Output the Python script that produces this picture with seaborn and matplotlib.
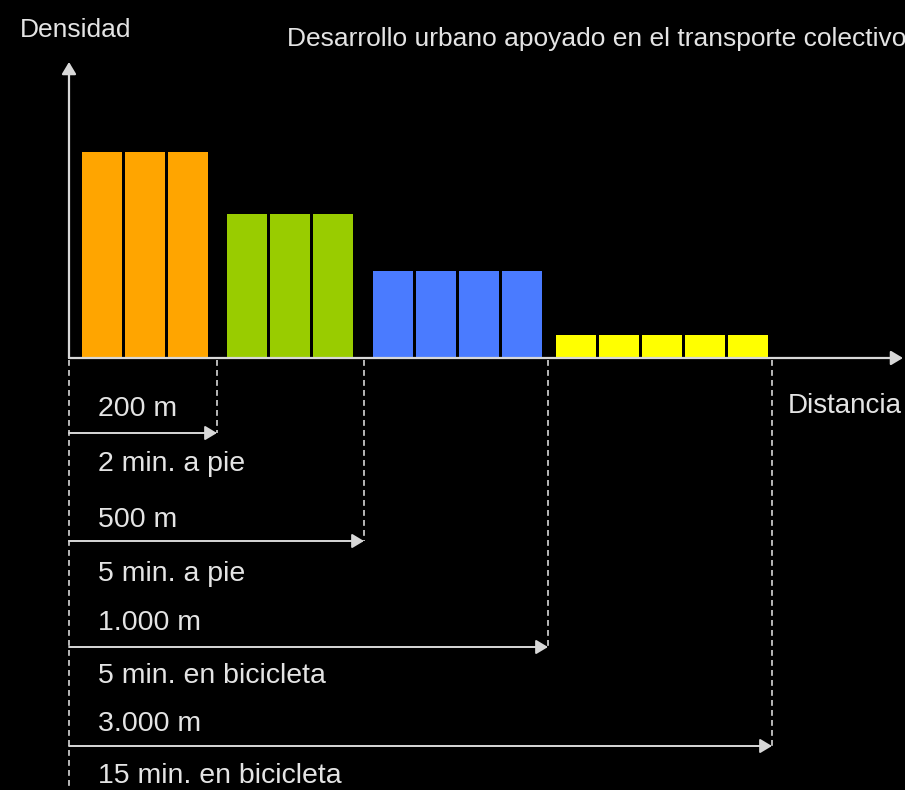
import matplotlib
matplotlib.use("Agg")
import matplotlib.pyplot as plt
import pandas as pd
import seaborn as sns

# Density by walking/cycling distance from a transit stop
zonas = ["200 m", "500 m", "1.000 m", "3.000 m"]
densidad = [100, 70, 42, 11]
celdas = [3, 3, 4, 5]
colores = ["#FFA500", "#99CC00", "#4A7BFF", "#FFFF00"]
tiempos = ["2 min. a pie", "5 min. a pie", "5 min. en bicicleta", "15 min. en bicicleta"]

titulo = "Desarrollo urbano apoyado en el transporte colectivo"
eje_y = "Densidad"
eje_x = "Distancia"

# ---- layout (pixels on a 905 x 790 canvas, y measured from the top) ----
W, H = 905, 790
ORIGEN_X = 69
BASE_Y = 358
PX_POR_UNIDAD = 2.06
CELDA, PASO = 40, 43
inicio_grupo = [82, 227, 373, 556]
guia_x = [217, 364, 548, 772]
flecha_y = [433, 541, 647, 746]
base_dist = [416, 527, 630, 731]
base_tiempo = [471, 581, 683, 783]
TEXTO_X = 98

FG = "#e4e4e4"
LINEA = "#d8d8d8"

sns.set_theme(style="white")
plt.rcParams["font.family"] = ["Liberation Sans", "DejaVu Sans"]

filas = []
for zona, dens, n, x0 in zip(zonas, densidad, celdas, inicio_grupo):
    for i in range(n):
        filas.append({"zona": zona, "x": x0 + CELDA / 2 + i * PASO, "densidad": dens})
df = pd.DataFrame(filas)

fig = plt.figure(figsize=(W / 100, H / 100), dpi=100, facecolor="black")
ax = fig.add_axes([0, 0, 1, 1])
ax.set_facecolor("black")
sns.barplot(
    data=df, x="x", y="densidad", hue="zona", hue_order=zonas,
    palette=dict(zip(zonas, colores)), native_scale=True, orient="x",
    width=CELDA / PASO, saturation=1, errorbar=None, legend=False,
    linewidth=0, ax=ax,
)
ax.set_xlim(0, W)
ax.set_ylim((BASE_Y - H) / PX_POR_UNIDAD, BASE_Y / PX_POR_UNIDAD)
ax.axis("off")

# overlay in pixel coordinates for the schematic axes, guides and labels
ov = fig.add_axes([0, 0, 1, 1], facecolor="none")
ov.set_xlim(0, W)
ov.set_ylim(H, 0)
ov.axis("off")


def flecha(x0, y0, x1, y1, lw=1.6):
    ov.annotate(
        "", xy=(x1, y1), xytext=(x0, y0),
        arrowprops=dict(arrowstyle="-|>,head_length=0.6,head_width=0.36",
                        mutation_scale=12, lw=lw, color=LINEA,
                        shrinkA=0, shrinkB=0),
    )


# axes with arrow heads
flecha(ORIGEN_X, BASE_Y, ORIGEN_X, 62)
flecha(ORIGEN_X, BASE_Y, 903, BASE_Y)

guion = dict(color=LINEA, lw=1.2, linestyle=(0, (3.5, 2.5)))
ov.plot([ORIGEN_X, ORIGEN_X], [BASE_Y + 2, H], **guion)
for gx, fy in zip(guia_x, flecha_y):
    ov.plot([gx, gx], [BASE_Y + 2, fy], **guion)
    flecha(ORIGEN_X, fy, gx, fy, lw=1.4)

for zona, tiempo, yb1, yb2 in zip(zonas, tiempos, base_dist, base_tiempo):
    ov.text(TEXTO_X, yb1, zona, color=FG, fontsize=20.5, va="baseline")
    ov.text(TEXTO_X, yb2, tiempo, color=FG, fontsize=20.5, va="baseline")

ov.text(20, 37, eje_y, color=FG, fontsize=19, va="baseline")
ov.text(788, 413, eje_x, color=FG, fontsize=20, va="baseline")
ov.text(287, 46, titulo, color=FG, fontsize=19, va="baseline")

fig.savefig("out.png", dpi=100, facecolor="black")
